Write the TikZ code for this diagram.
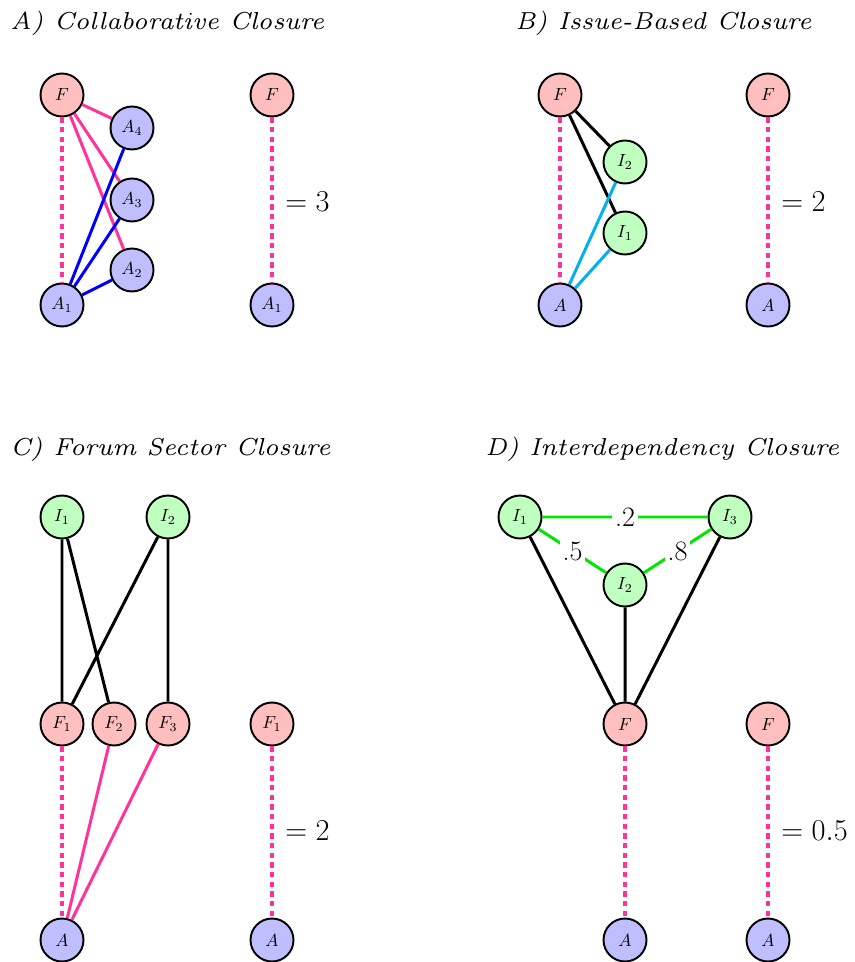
\documentclass[tikz,border=0pt]{standalone}
\usepackage{amsmath}
\usepackage{xcolor}
\usepackage{tikz}
\usetikzlibrary{arrows.meta}

\definecolor{linkpink}{RGB}{255,51,153}
\definecolor{linkcyan}{RGB}{0,176,240}
\definecolor{linkgreen}{RGB}{0,230,0}
\font\paneltitle=cmti7 at 14pt

\begin{document}
\begin{tikzpicture}[x=0.02cm,y=-0.02cm,
  vert/.style={circle,draw=black,line width=1.1pt,minimum size=0.86cm,inner sep=0pt,font=\normalsize},
  fnode/.style={vert,fill=red!25},
  anode/.style={vert,fill=blue!25},
  inode/.style={vert,fill=green!25},
  link/.style={line width=1.7pt},
  closing/.style={line width=2pt,linkpink,dash pattern=on 3pt off 2.5pt},
  panel/.style={anchor=base west,font=\paneltitle,inner sep=0pt},
  result/.style={anchor=west,font=\fontsize{16}{18}\selectfont,inner sep=0pt},
  weight/.style={fill=white,text=black,inner sep=1.5pt,font=\fontsize{16}{18}\selectfont}]
\useasboundingbox (0,0) rectangle (854,962);

%% A) collaborative
\node[panel] (titleA) at (10,30) {A) Collaborative Closure};
\node[fnode] (aF) at (62,95) {$F$};
\node[anode] (aA4) at (132,128) {$A_4$};
\node[anode] (aA3) at (132,200) {$A_3$};
\node[anode] (aA2) at (132,270) {$A_2$};
\node[anode] (aA1) at (62,305) {$A_1$};
\draw[link,linkpink] (aF)--(aA4) (aF)--(aA3) (aF)--(aA2);
\draw[link,blue] (aA1)--(aA4) (aA1)--(aA3) (aA1)--(aA2);
\draw[closing] (aF)--(aA1);
\node[fnode] (aFr) at (272,95) {$F$};
\node[anode] (aA1r) at (272,305) {$A_1$};
\draw[closing] (aFr)--(aA1r);
\node[result] (eqA) at (285,202) {$=3$};

%% B) issue-based
\node[panel] (titleB) at (515,30) {B) Issue-Based Closure};
\node[fnode] (bF) at (560,95) {$F$};
\node[inode] (bI2) at (625,162) {$I_2$};
\node[inode] (bI1) at (625,233) {$I_1$};
\node[anode] (bA) at (560,305) {$A$};
\draw[link] (bF)--(bI2) (bF)--(bI1);
\draw[link,linkcyan] (bA)--(bI2) (bA)--(bI1);
\draw[closing] (bF)--(bA);
\node[fnode] (bFr) at (768,95) {$F$};
\node[anode] (bAr) at (768,305) {$A$};
\draw[closing] (bFr)--(bAr);
\node[result] (eqB) at (781,202) {$=2$};

%% C) forum sector
\node[panel] (titleC) at (10,455) {C) Forum Sector Closure};
\node[inode] (cI1) at (62,517) {$I_1$};
\node[inode] (cI2) at (168,517) {$I_2$};
\node[fnode] (cF1) at (62,724) {$F_1$};
\node[fnode] (cF2) at (114,724) {$F_2$};
\node[fnode] (cF3) at (168,724) {$F_3$};
\node[anode] (cA) at (62,940) {$A$};
\draw[link] (cI1)--(cF1) (cI1)--(cF2) (cI2)--(cF1) (cI2)--(cF3);
\draw[link,linkpink] (cF2)--(cA) (cF3)--(cA);
\draw[closing] (cF1)--(cA);
\node[fnode] (cF1r) at (272,724) {$F_1$};
\node[anode] (cAr) at (272,940) {$A$};
\draw[closing] (cF1r)--(cAr);
\node[result] (eqC) at (285,831) {$=2$};

%% D) interdependency
\node[panel] (titleD) at (485,455) {D) Interdependency Closure};
\node[inode] (dI1) at (520,517) {$I_1$};
\node[inode] (dI3) at (730,517) {$I_3$};
\node[inode] (dI2) at (625,585) {$I_2$};
\node[fnode] (dF) at (625,724) {$F$};
\node[anode] (dA) at (625,940) {$A$};
\draw[link] (dI1)--(dF) (dI2)--(dF) (dI3)--(dF);
\draw[link,linkgreen] (dI1)--node[weight]{.2}(dI3)
  (dI1)--node[weight]{.5}(dI2)
  (dI2)--node[weight]{.8}(dI3);
\draw[closing] (dF)--(dA);
\node[fnode] (dFr) at (768,724) {$F$};
\node[anode] (dAr) at (768,940) {$A$};
\draw[closing] (dFr)--(dAr);
\node[result] (eqD) at (781,831) {$=0.5$};
\end{tikzpicture}
\end{document}
